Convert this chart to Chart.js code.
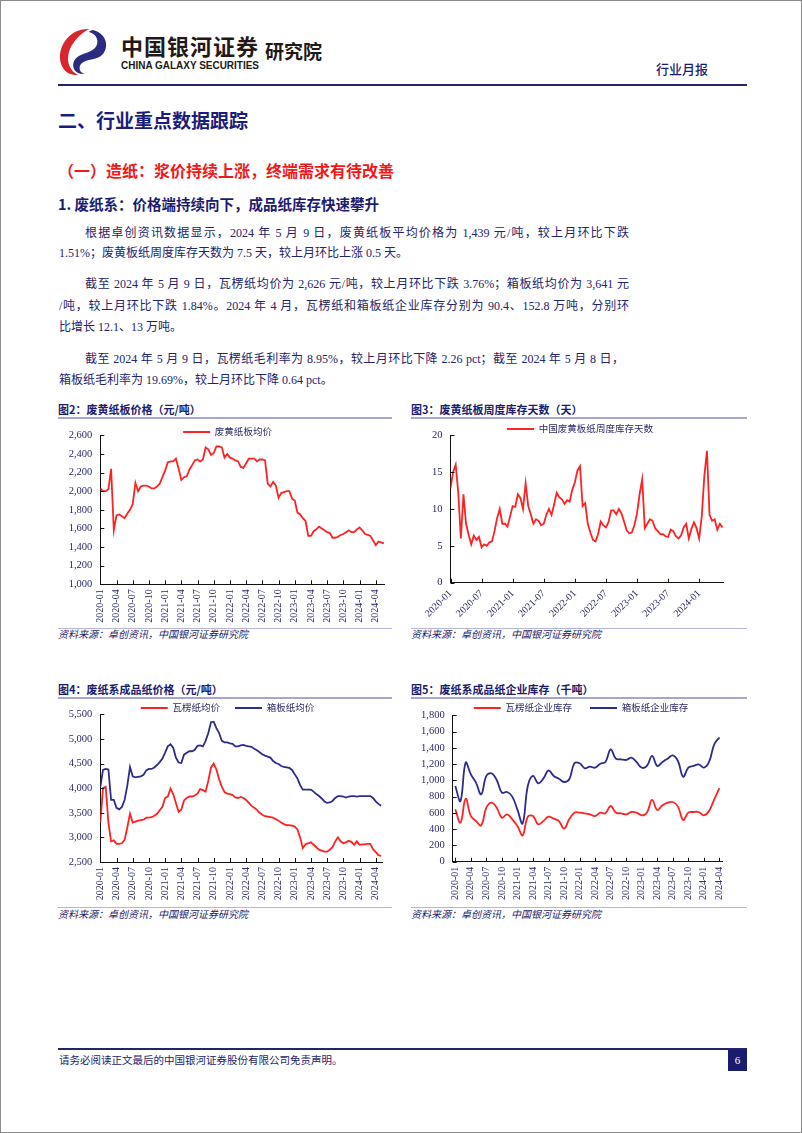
<!DOCTYPE html>
<html lang="zh-CN">
<head>
<meta charset="UTF-8">
<title>行业月报 - 废纸系数据跟踪</title>
<script src="https://cdn.jsdelivr.net/npm/chart.js"></script>
<style>
  html, body { margin: 0; padding: 0; background: #fff; }
  .page { position: relative; width: 802px; height: 1133px; box-sizing: border-box; border: 1px solid #8c8c8c;
          overflow: hidden; font-family: "Liberation Serif", "Noto Sans CJK SC", serif; color: #22226e; }
  .abs { position: absolute; white-space: nowrap; }
  .brand { left: 120px; top: 32px; font: bold 22px/24px "Noto Sans CJK SC", sans-serif; color: #231815; letter-spacing: 1px; }
  .brand-en { left: 120px; top: 58px; font: bold 10.5px/12px "Liberation Sans Narrow", "Liberation Sans", sans-serif; color: #231815;
              transform: scaleX(0.95); transform-origin: left center; }
  .yjy { left: 264px; top: 39px; font: bold 19px/22px "Noto Sans CJK SC", sans-serif; color: #231815; }
  .kind { left: 655px; top: 60px; font: 500 13px/16px "Noto Sans CJK SC", sans-serif; color: #1c1c78; }
  .rule { position: absolute; background: #24246e; }
  .h1 { left: 57px; top: 108px; font: bold 19px/22px "Noto Sans CJK SC", sans-serif; color: #1c1c7a; }
  .h2 { left: 57px; top: 159px; font: bold 16px/20px "Noto Sans CJK SC", sans-serif; color: #f01818; }
  .h3 { left: 57px; top: 194px; font: bold 14.5px/18px "Noto Sans CJK SC", sans-serif; color: #1c1c70; }
  .ln { position: absolute; left: 58px; width: 570px; font-size: 12px; line-height: 14px; white-space: normal;
        font-family: "Liberation Serif", "Noto Sans CJK SC", serif; color: #24246c; }
  .ln.ind { left: 84px; width: 544px; }
  .ln.j { text-align: justify; text-align-last: justify; }
  .ctitle { font: bold 11px/13px "Noto Sans CJK SC", sans-serif; color: #1c1c6e; }
  .tline { position: absolute; height: 2px; background: #a6a6d2; }
  .sline { position: absolute; height: 1px; background: #b6b6da; }
  .src { font: italic 10px/12px "Liberation Serif", "Noto Sans CJK SC", serif; color: #24246c; }
  .box { position: absolute; }
  .foot { left: 58px; top: 1053px; font: 10.5px/13px "Liberation Serif", "Noto Sans CJK SC", serif; color: #24246c; }
  .pno { position: absolute; left: 727px; top: 1049px; width: 19px; height: 21px; background: #1a1a6e; color: #fff;
         font: 11px/21px "Liberation Serif", serif; text-align: center; }
</style>
</head>
<body>
<div class="page">
  <svg class="box" style="left:55px; top:25px" width="56" height="52" viewBox="0 0 56 52">
    <path d="M33 3 C16 2 3 17 4 33 C5 44 13 50 22 49 C14 45 10 36 13 26 C16 16 24 8 33 3 Z" fill="#d7262e"/>
    <path d="M37 4 C49 7 54 19 47 28 C41 35 30 32 25 38 C22 42 24 47 29 48 C20 49 15 42 18 35 C22 27 33 28 39 22 C44 16 41 8 33 6 C34 5 35 4 37 4 Z" fill="#2b2b82"/>
  </svg>
  <div class="abs brand">中国银河证券</div>
  <div class="abs brand-en">CHINA GALAXY SECURITIES</div>
  <div class="abs yjy">研究院</div>
  <div class="abs kind">行业月报</div>
  <div class="rule" style="left:57px; top:83px; width:689px; height:2px"></div>

  <div class="abs h1">二、行业重点数据跟踪</div>
  <div class="abs h2">（一）造纸：浆价持续上涨，终端需求有待改善</div>
  <div class="abs h3">1. 废纸系：价格端持续向下，成品纸库存快速攀升</div>

  <div class="ln ind j" style="top:225px">根据卓创资讯数据显示，2024 年 5 月 9 日，废黄纸板平均价格为 1,439 元/吨，较上月环比下跌</div>
  <div class="ln" style="top:245px">1.51%；废黄板纸周度库存天数为 7.5 天，较上月环比上涨 0.5 天。</div>
  <div class="ln ind j" style="top:276px">截至 2024 年 5 月 9 日，瓦楞纸均价为 2,626 元/吨，较上月环比下跌 3.76%；箱板纸均价为 3,641 元</div>
  <div class="ln j" style="top:298px">/吨，较上月环比下跌 1.84%。2024 年 4 月，瓦楞纸和箱板纸企业库存分别为 90.4、152.8 万吨，分别环</div>
  <div class="ln" style="top:319px">比增长 12.1、13 万吨。</div>
  <div class="ln ind j" style="top:351px; width:539px">截至 2024 年 5 月 9 日，瓦楞纸毛利率为 8.95%，较上月环比下降 2.26 pct；截至 2024 年 5 月 8 日，</div>
  <div class="ln" style="top:372px">箱板纸毛利率为 19.69%，较上月环比下降 0.64 pct。</div>

  <!-- 图2 -->
  <div class="abs ctitle" style="left:57px; top:402px">图2：废黄纸板价格（元/吨）</div>
  <div class="tline" style="left:57px; top:416px; width:334px"></div>
  <canvas class="box" id="c2" width="335" height="205" style="left:57px; top:420px"></canvas>
  <div class="sline" style="left:57px; top:627px; width:334px"></div>
  <div class="abs src" style="left:57px; top:628px">资料来源：卓创资讯，中国银河证券研究院</div>

  <!-- 图3 -->
  <div class="abs ctitle" style="left:410px; top:402px">图3：废黄纸板周度库存天数（天）</div>
  <div class="tline" style="left:410px; top:416px; width:336px"></div>
  <canvas class="box" id="c3" width="340" height="205" style="left:408px; top:420px"></canvas>
  <div class="sline" style="left:410px; top:627px; width:336px"></div>
  <div class="abs src" style="left:410px; top:628px">资料来源：卓创资讯，中国银河证券研究院</div>

  <!-- 图4 -->
  <div class="abs ctitle" style="left:57px; top:682px">图4：废纸系成品纸价格（元/吨）</div>
  <div class="tline" style="left:57px; top:696px; width:334px"></div>
  <canvas class="box" id="c4" width="335" height="205" style="left:57px; top:699px"></canvas>
  <div class="sline" style="left:57px; top:906px; width:334px"></div>
  <div class="abs src" style="left:57px; top:908px">资料来源：卓创资讯，中国银河证券研究院</div>

  <!-- 图5 -->
  <div class="abs ctitle" style="left:410px; top:682px">图5：废纸系成品纸企业库存（千吨）</div>
  <div class="tline" style="left:410px; top:696px; width:336px"></div>
  <canvas class="box" id="c5" width="340" height="205" style="left:408px; top:699px"></canvas>
  <div class="sline" style="left:410px; top:906px; width:336px"></div>
  <div class="abs src" style="left:410px; top:908px">资料来源：卓创资讯，中国银河证券研究院</div>

  <div class="rule" style="left:57px; top:1047px; width:689px; height:2px"></div>
  <div class="abs foot">请务必阅读正文最后的中国银河证券股份有限公司免责声明。</div>
  <div class="pno">6</div>
</div>

<script>
// axis labels
const quarterLabels = ['2020-01', '2020-04', '2020-07', '2020-10', '2021-01', '2021-04', '2021-07', '2021-10',
  '2022-01', '2022-04', '2022-07', '2022-10', '2023-01', '2023-04', '2023-07', '2023-10', '2024-01', '2024-04'];
const halfYearLabels = ['2020-01', '2020-07', '2021-01', '2021-07', '2022-01', '2022-07', '2023-01', '2023-07', '2024-01'];

const wasteBoardPrice = [
  2030, 2000, 2000, 2020, 2240, 1580, 1740, 1750, 1730, 1710, 1760, 1800,
  1860, 2090, 2000, 2050, 2060, 2060, 2050, 2030, 2030, 2050, 2080, 2150,
  2220, 2310, 2320, 2320, 2350, 2240, 2120, 2150, 2160, 2230, 2280, 2330,
  2340, 2320, 2340, 2470, 2450, 2390, 2410, 2480, 2480, 2470, 2360, 2400,
  2360, 2350, 2330, 2320, 2260, 2250, 2300, 2350, 2350, 2350, 2320, 2340,
  2340, 2330, 2080, 2050, 2100, 2060, 1930, 1980, 1990, 2000, 2000, 1920,
  1900, 1770, 1750, 1710, 1680, 1520, 1520, 1570, 1590, 1620, 1600, 1580,
  1560, 1550, 1500, 1500, 1510, 1530, 1540, 1560, 1580, 1560, 1560, 1590,
  1610, 1580, 1540, 1530, 1520, 1470, 1420, 1460, 1450, 1439
];
const wasteStockDays = [
  12.8, 15.0, 16.0, 12.2, 6.0, 12.0, 8.0, 6.5, 5.2, 6.4, 5.8, 6.2,
  4.8, 5.2, 5.0, 5.5, 5.6, 7.0, 8.8, 10.0, 8.0, 8.0, 7.6, 9.0,
  10.4, 10.3, 12.0, 11.5, 10.0, 13.5, 10.4, 9.3, 8.0, 8.6, 8.4, 7.8,
  8.0, 9.2, 10.0, 9.2, 10.6, 12.2, 11.6, 11.3, 10.7, 11.2, 11.0, 12.6,
  13.6, 15.2, 15.8, 10.4, 10.8, 8.0, 6.8, 5.8, 5.6, 6.6, 8.3, 7.8,
  7.5, 8.2, 9.8, 9.8, 9.3, 10.0, 9.4, 8.3, 7.1, 6.7, 6.8, 7.8,
  9.4, 12.0, 14.0, 7.4, 8.0, 8.6, 8.4, 7.4, 7.0, 6.6, 6.6, 6.3,
  6.2, 7.2, 7.0, 6.3, 6.0, 6.4, 7.5, 8.0, 6.0, 7.3, 8.2, 7.4,
  6.0, 9.0, 14.5, 17.9, 9.2, 8.4, 8.6, 7.2, 8.0, 7.5
];
const corrugatedPrice = [
  3300, 4000, 4030, 3300, 2920, 2940, 2870, 2870, 2880, 2950, 3200, 3480,
  3300, 3320, 3340, 3350, 3360, 3400, 3400, 3410, 3440, 3480, 3550, 3620,
  3800, 3830, 3990, 3880, 3700, 3520, 3560, 3750, 3800, 3830, 3830, 3850,
  3890, 3980, 3960, 3930, 4150, 4420, 4500, 4380, 4180, 4030, 3920, 3890,
  3880, 3860, 3810, 3800, 3820, 3800, 3760, 3700, 3640, 3600, 3560, 3500,
  3460, 3430, 3420, 3410, 3400, 3370, 3340, 3300, 3270, 3250, 3250, 3240,
  3220, 3160, 3000, 2780, 2860, 2880, 2900, 2850, 2800, 2750, 2730, 2710,
  2710, 2750, 2800, 2920, 3000, 2920, 2880, 2900, 2930, 2910, 2850, 2920,
  2850, 2860, 2860, 2870, 2870, 2760, 2700, 2640, 2626
];
const containerboardPrice = [
  4020, 4370, 4390, 4380, 3760, 3760, 3600, 3570, 3620, 3760, 4050, 4430,
  4240, 4220, 4230, 4240, 4270, 4360, 4390, 4390, 4420, 4470, 4530, 4600,
  4720, 4850, 4890, 4820, 4620, 4520, 4510, 4680, 4720, 4750, 4750, 4780,
  4860, 4870, 4850, 4960, 5120, 5340, 5350, 5220, 5120, 4960, 4930, 4930,
  4910, 4900, 4850, 4850, 4870, 4880, 4860, 4850, 4840, 4800, 4770, 4730,
  4690, 4660, 4640, 4620, 4550, 4510, 4490, 4450, 4430, 4420, 4410, 4370,
  4280, 4200, 4060, 3970, 3970, 3970, 3970, 3930, 3880, 3840, 3790, 3730,
  3700, 3710, 3740, 3800, 3840, 3840, 3830, 3810, 3830, 3840, 3840, 3830,
  3840, 3840, 3840, 3840, 3840, 3800, 3730, 3680, 3641
];

// monthly inventories, 2020-01 .. 2024-04 (千吨)
const corrugatedStock = [
  644, 480, 775, 562, 500, 447, 664, 726, 664, 541, 582, 521,
  439, 324, 553, 562, 459, 500, 553, 529, 500, 406, 521, 603,
  603, 595, 582, 562, 603, 595, 685, 603, 595, 582, 611, 603,
  570, 603, 759, 636, 693, 726, 734, 677, 513, 603, 611, 611,
  570, 623, 767, 904
];
const containerboardStock = [
  931, 746, 1218, 1074, 972, 828, 1054, 1087, 1005, 849, 857, 800,
  640, 470, 931, 1054, 964, 1021, 1123, 1054, 1021, 980, 1013, 1210,
  1210, 1148, 1169, 1156, 1205, 1226, 1382, 1267, 1259, 1251, 1279, 1226,
  1156, 1177, 1300, 1177, 1226, 1267, 1308, 1238, 1045, 1156, 1177, 1197,
  1156, 1226, 1443, 1528
];

const RED = '#ff2222';
const NAVY = '#2c2c8c';
const INK = '#2a2a6a';
const SERIF = '"Liberation Serif", "Noto Sans CJK SC", serif';

// Excel style tick marks pointing into the plot
const innerTicks = {
  id: 'innerTicks',
  afterDraw(chart) {
    const { ctx, chartArea: a, scales: { x, y } } = chart;
    ctx.save();
    ctx.strokeStyle = '#111';
    ctx.lineWidth = 1;
    ctx.beginPath();
    x.ticks.forEach(t => {
      const p = Math.round(x.getPixelForValue(t.value)) + 0.5;
      ctx.moveTo(p, a.bottom); ctx.lineTo(p, a.bottom - 4);
    });
    y.ticks.forEach(t => {
      const p = Math.round(y.getPixelForValue(t.value)) + 0.5;
      ctx.moveTo(a.left, p); ctx.lineTo(a.left + 4, p);
    });
    ctx.stroke();
    ctx.restore();
  }
};

// legend floats over the top of the plot, like the Excel original:
// it reserves no layout space, then its items are centred on (x, y)
const legendAt = {
  id: 'legendAt',
  afterInit(chart) {
    const lg = chart.legend;
    const fit = lg.fit.bind(lg);
    lg.fit = function () { fit(); this._boxH = this.height; this.height = 0; };
  },
  afterLayout(chart) {
    const lg = chart.legend;
    lg.height = lg._boxH;
    lg.bottom = lg.top + lg._boxH;
  },
  beforeDraw(chart, args, opts) {
    const lg = chart.legend;
    const hb = lg.legendHitBoxes;
    if (!hb || !hb.length || opts.y == null) return;
    const first = hb[0], last = hb[hb.length - 1];
    const dx = opts.x - (first.left + last.left + last.width) / 2;
    const dy = opts.y - (first.top + first.height / 2);
    lg.left += dx; lg.right += dx;
    lg.top += dy; lg.bottom += dy;
    hb.forEach(b => { b.left += dx; b.top += dy; });
  }
};

function points(values, step) {
  return values.map((v, i) => ({ x: i * step, y: v }));
}

function drawChart(id, o) {
  return new Chart(document.getElementById(id), {
    type: 'line',
    data: {
      datasets: o.series.map(s => ({
        label: s.label,
        data: points(s.values, o.step),
        borderColor: s.color,
        backgroundColor: s.color,
        borderWidth: 1.8,
        pointRadius: 0,
        tension: o.tension || 0,
        fill: false
      }))
    },
    options: {
      responsive: false,
      animation: false,
      devicePixelRatio: 1,
      layout: { padding: { top: o.top, right: o.right, left: 0, bottom: 0 } },
      plugins: {
        legend: {
          position: 'top',
          labels: {
            usePointStyle: true, pointStyle: 'line', pointStyleWidth: 27,
            padding: o.legendGap, color: INK, font: { family: SERIF, size: 9.5 }
          }
        },
        legendAt: o.legend,
        tooltip: { enabled: false }
      },
      scales: {
        x: {
          type: 'linear',
          min: o.xMin, max: o.xMax,
          afterBuildTicks: ax => { ax.ticks = o.xLabels.map((_, i) => ({ value: i * o.xEvery })); },
          afterFit: ax => { ax.height = o.xh; },
          grid: { display: false, drawTicks: false },
          border: { color: '#111', width: 1 },
          ticks: {
            autoSkip: false, minRotation: o.rot, maxRotation: o.rot, padding: 5,
            color: INK, font: { family: SERIF, size: 10 },
            callback: v => o.xLabels[Math.round(v / o.xEvery)]
          }
        },
        y: {
          min: o.yMin, max: o.yMax,
          afterFit: ax => { ax.width = o.yw; },
          grid: { display: false, drawTicks: false },
          border: { color: '#111', width: 1 },
          ticks: {
            stepSize: o.yStep, padding: 8, color: INK, font: { family: SERIF, size: 10.5 },
            callback: v => v.toLocaleString('en-US')
          }
        }
      }
    },
    plugins: [innerTicks, legendAt]
  });
}

drawChart('c2', {
  series: [{ label: '废黄纸板均价', values: wasteBoardPrice, color: RED }],
  step: 0.5, xMin: 0, xMax: 52.6, xLabels: quarterLabels, xEvery: 3, rot: 90,
  yMin: 1000, yMax: 2600, yStep: 200,
  top: 11, right: 7.4, yw: 42.3, xh: 41.7,
  legendGap: 10, legend: { x: 169.5, y: 11 }
});

drawChart('c3', {
  series: [{ label: '中国废黄板纸周度库存天数', values: wasteStockDays, color: RED }],
  step: 0.5, xMin: 0, xMax: 52.6, xLabels: halfYearLabels, xEvery: 6, rot: 45,
  yMin: 0, yMax: 20, yStep: 5,
  top: 11, right: 26, yw: 41.5, xh: 43.3,
  legendGap: 10, legend: { x: 171, y: 8 }
});

drawChart('c4', {
  series: [
    { label: '瓦楞纸均价', values: corrugatedPrice, color: RED },
    { label: '箱板纸均价', values: containerboardPrice, color: NAVY }
  ],
  step: 0.5, xMin: 0, xMax: 52.2, xLabels: quarterLabels, xEvery: 3, rot: 90,
  yMin: 2500, yMax: 5500, yStep: 500,
  top: 5.3, right: 10.8, yw: 42.3, xh: 43,
  legendGap: 15, legend: { x: 169.5, y: 8 }
});

drawChart('c5', {
  series: [
    { label: '瓦楞纸企业库存', values: corrugatedStock, color: RED },
    { label: '箱板纸企业库存', values: containerboardStock, color: NAVY }
  ],
  step: 1, xMin: -0.5, xMax: 51.5, xLabels: quarterLabels, xEvery: 3, rot: 90, tension: 0.4,
  yMin: 0, yMax: 1800, yStep: 200,
  top: 15.3, right: 27, yw: 43.7, xh: 43.3,
  legendGap: 18, legend: { x: 172, y: 8 }
});
</script>
</body>
</html>
